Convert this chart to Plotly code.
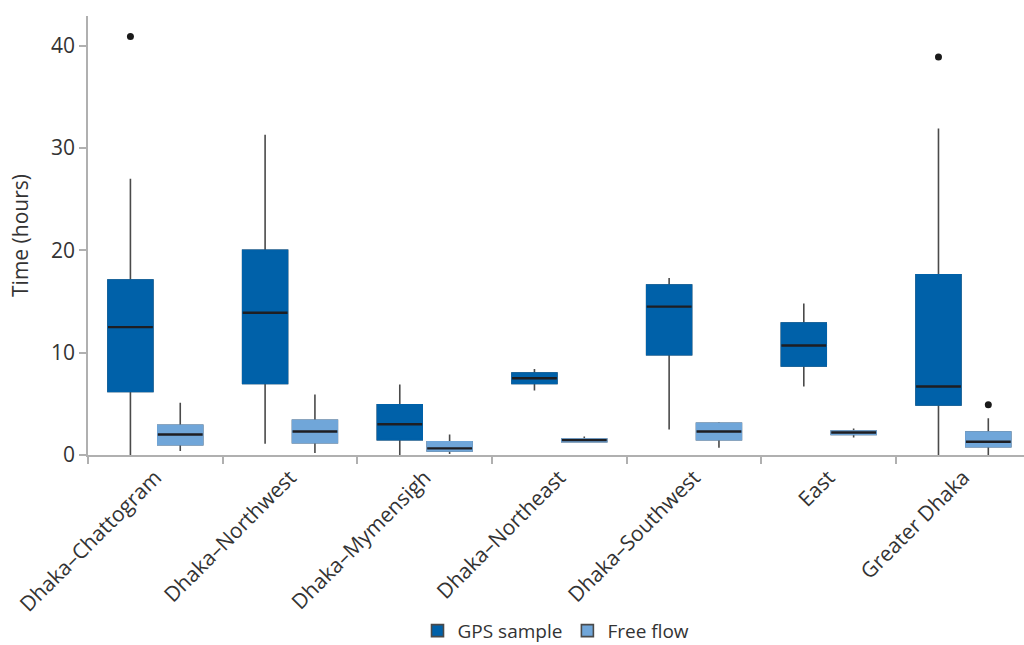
import plotly.graph_objects as go

# Corridors on the x axis
categories = [
    "Dhaka–Chattogram", "Dhaka–Northwest", "Dhaka–Mymensigh", "Dhaka–Northeast",
    "Dhaka–Southwest", "East", "Greater Dhaka",
]

# GPS sample travel time (hours): box statistics per corridor
gps_lower = [0.0, 1.1, 0.0, 6.3, 2.5, 6.7, 0.0]
gps_q1 = [6.2, 7.0, 1.5, 7.0, 9.8, 8.7, 4.9]
gps_median = [12.5, 13.9, 3.0, 7.5, 14.5, 10.7, 6.7]
gps_q3 = [17.1, 20.0, 4.9, 8.0, 16.6, 12.9, 17.6]
gps_upper = [27.0, 31.3, 6.9, 8.4, 17.3, 14.8, 31.9]

# Free-flow travel time (hours)
ff_lower = [0.4, 0.2, 0.1, 1.3, 0.7, 1.7, 0.0]
ff_q1 = [1.0, 1.2, 0.4, 1.3, 1.5, 2.0, 0.8]
ff_median = [2.0, 2.3, 0.65, 1.45, 2.3, 2.2, 1.3]
ff_q3 = [2.9, 3.4, 1.3, 1.55, 3.1, 2.35, 2.25]
ff_upper = [5.1, 5.9, 2.0, 1.8, 3.2, 2.6, 3.6]

# Outlying observations
gps_out_cat = ["Dhaka–Chattogram", "Greater Dhaka"]
gps_out_val = [40.9, 38.9]
ff_out_cat = ["Greater Dhaka"]
ff_out_val = [4.9]

GPS_BLUE = "#0061a9"
FF_BLUE = "#70a6d9"
WHISKER = "#4a4a4a"
MEDIAN = "#1e1e22"
TEXT = "#333333"
AXIS = "#b0b0b0"
FONT_SIZE = 21

fig = go.Figure()


def add_series(name, group, fill, lower, q1, med, q3, upper, out_cat, out_val):
    # whiskers (and a dark outline that the body layer hides)
    fig.add_trace(go.Box(
        name=name, x=categories, q1=q1, median=med, q3=q3,
        lowerfence=lower, upperfence=upper,
        fillcolor=fill, line=dict(color=WHISKER, width=1.6),
        whiskerwidth=0, offsetgroup=group, alignmentgroup="all",
        legendgroup=group, showlegend=True, hoverinfo="skip",
    ))
    # solid box body without an outline
    fig.add_trace(go.Box(
        name=name, x=categories, q1=q1, median=med, q3=q3,
        lowerfence=q1, upperfence=q3,
        fillcolor=fill, line=dict(color=fill, width=1.6),
        whiskerwidth=0, offsetgroup=group, alignmentgroup="all",
        legendgroup=group, showlegend=False, hoverinfo="skip",
    ))
    # median bar
    fig.add_trace(go.Box(
        name=name, x=categories, q1=med, median=med, q3=med,
        lowerfence=med, upperfence=med,
        fillcolor="rgba(0,0,0,0)", line=dict(color=MEDIAN, width=2.4),
        whiskerwidth=0, offsetgroup=group, alignmentgroup="all",
        legendgroup=group, showlegend=False, hoverinfo="skip",
    ))
    # outliers
    fig.add_trace(go.Box(
        name=name, x=out_cat, y=out_val, boxpoints="all", jitter=0, pointpos=0,
        fillcolor="rgba(0,0,0,0)", line=dict(color="rgba(0,0,0,0)", width=0),
        marker=dict(color="#1a1a1a", size=7),
        offsetgroup=group, alignmentgroup="all",
        legendgroup=group, showlegend=False, hoverinfo="skip",
    ))


add_series("GPS sample", "gps", GPS_BLUE, gps_lower, gps_q1, gps_median,
           gps_q3, gps_upper, gps_out_cat, gps_out_val)
add_series("Free flow", "ff", FF_BLUE, ff_lower, ff_q1, ff_median,
           ff_q3, ff_upper, ff_out_cat, ff_out_val)

fig.update_layout(
    width=1024, height=645,
    margin=dict(l=88, r=0, t=16, b=190, autoexpand=False),
    paper_bgcolor="white", plot_bgcolor="white",
    font=dict(family="Open Sans", size=FONT_SIZE, color=TEXT),
    boxmode="group", boxgap=0.26, boxgroupgap=0.1,
    legend=dict(orientation="h", x=0.5, xanchor="center",
                yref="container", y=0.022, yanchor="middle",
                font=dict(size=FONT_SIZE - 2), itemwidth=30,
                tracegroupgap=0),
    xaxis=dict(
        type="category", categoryorder="array", categoryarray=categories,
        range=[-0.5, 6.45], tickangle=-45, tickson="boundaries",
        ticks="outside", ticklen=7, tickcolor=AXIS, tickwidth=1.5,
        showline=True, linecolor=AXIS, linewidth=2, showgrid=False,
        zeroline=False, automargin=False,
        tickfont=dict(size=FONT_SIZE, color=TEXT),
    ),
    yaxis=dict(
        range=[0, 42.9], tickvals=[0, 10, 20, 30, 40],
        ticks="outside", ticklen=7, tickcolor=AXIS, tickwidth=1.5,
        showline=True, linecolor=AXIS, linewidth=1.5, showgrid=False,
        zeroline=False, automargin=False,
        tickfont=dict(size=FONT_SIZE, color=TEXT),
        title=dict(text="Time (hours)", font=dict(size=FONT_SIZE, color=TEXT),
                   standoff=17),
    ),
)

fig.write_html("out.html")
